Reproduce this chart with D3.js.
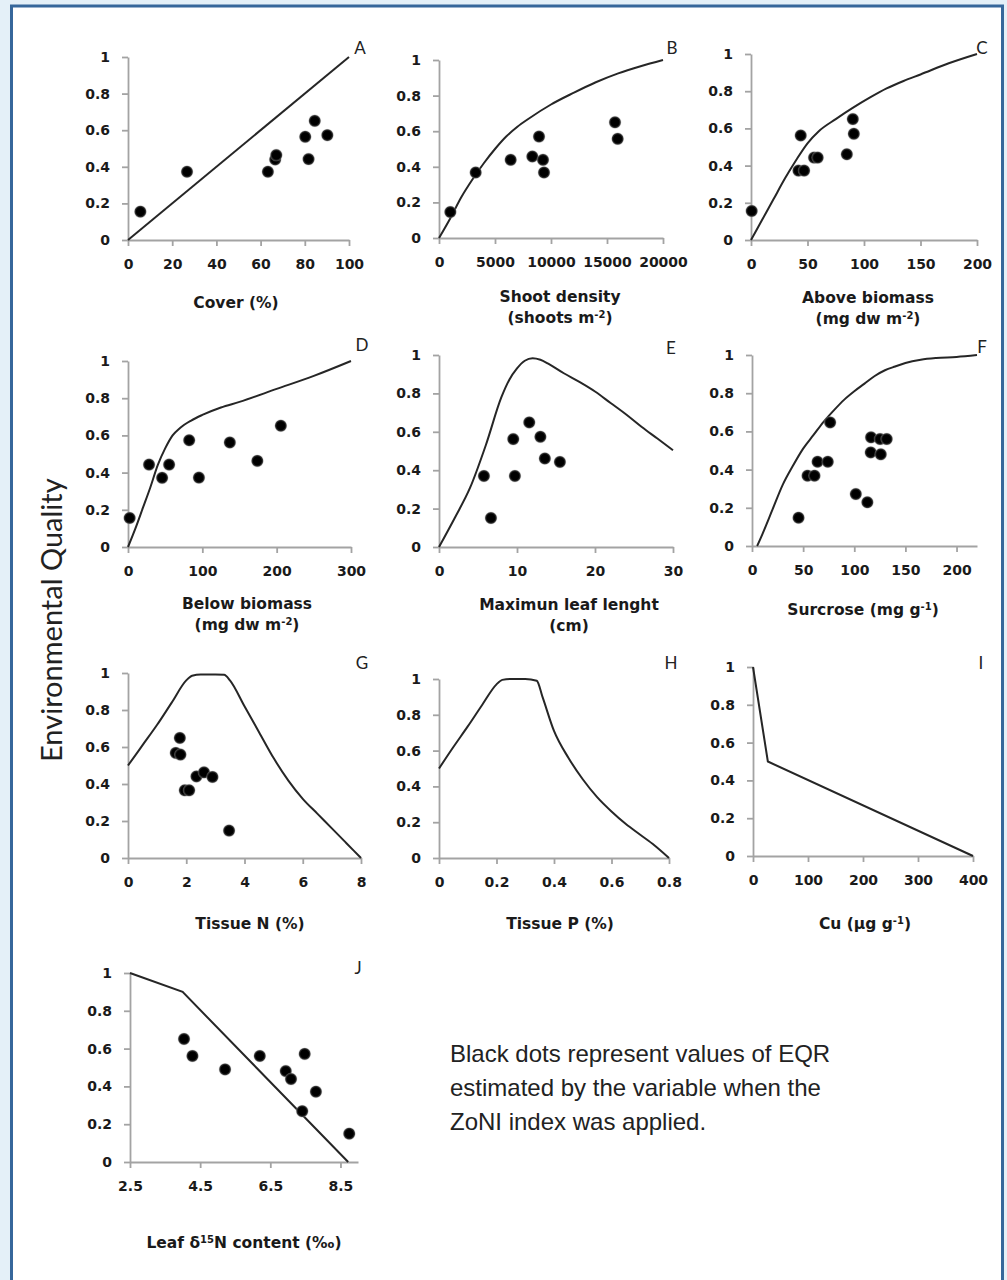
<!DOCTYPE html>
<html>
<head>
<meta charset="utf-8">
<script src="https://cdn.jsdelivr.net/npm/d3@7"></script>
<style>
  body { margin: 0; background: #e4f0f8; }
</style>
</head>
<body>
<div id="chart"></div>
<script>
// values: [x, EQR]
const yTicks = [0, 0.2, 0.4, 0.6, 0.8, 1];

const coverTicks = [0, 20, 40, 60, 80, 100];
const coverCurve = [[0, 0], [100, 1]];
const coverPts = [[5.6, 0.155], [26.7, 0.373], [63.3, 0.373], [66.6, 0.44], [67.1, 0.464],
  [80.2, 0.564], [81.7, 0.442], [84.5, 0.651], [90.2, 0.573]];

const shootTicks = [0, 5000, 10000, 15000, 20000];
const shootCurve = [[0, 0], [1000, 0.11], [2000, 0.23], [3000, 0.33], [4000, 0.42], [5000, 0.5],
  [6000, 0.57], [7000, 0.625], [8000, 0.67], [10000, 0.75], [12000, 0.815], [14000, 0.875],
  [16000, 0.925], [18000, 0.965], [20000, 1]];
const shootPts = [[1012, 0.146], [3274, 0.368], [6399, 0.439], [8333, 0.458], [8929, 0.57],
  [9286, 0.439], [9375, 0.368], [15714, 0.65], [15952, 0.557]];

const aboveTicks = [0, 50, 100, 150, 200];
const aboveCurve = [[0, 0], [10, 0.11], [20, 0.22], [30, 0.33], [40, 0.43], [50, 0.52], [60, 0.585],
  [75, 0.65], [90, 0.71], [105, 0.765], [120, 0.815], [135, 0.855], [150, 0.89], [175, 0.95], [200, 1]];
const abovePts = [[0.6, 0.156], [44, 0.562], [42, 0.373], [47, 0.373], [55.8, 0.443], [59, 0.443],
  [84.8, 0.461], [90.1, 0.65], [91, 0.571]];

const belowTicks = [0, 100, 200, 300];
const belowCurve = [[0, 0], [10, 0.1], [20, 0.21], [30, 0.32], [40, 0.44], [50, 0.53], [60, 0.6],
  [70, 0.64], [85, 0.68], [100, 0.71], [125, 0.75], [150, 0.78], [200, 0.85], [250, 0.92], [300, 1]];
const belowPts = [[2.2, 0.156], [28.3, 0.443], [45.9, 0.372], [55.3, 0.443], [82.3, 0.574],
  [95.4, 0.373], [137, 0.562], [174, 0.463], [205.6, 0.652]];

const leafTicks = [0, 10, 20, 30];
const leafCurve = [[0, 0], [2, 0.15], [4, 0.31], [6, 0.53], [8, 0.78], [9, 0.87], [10, 0.93], [11, 0.97],
  [12, 0.983], [13, 0.975], [14, 0.955], [16, 0.905], [18, 0.86], [20, 0.81], [22, 0.75], [24, 0.69],
  [26, 0.625], [28, 0.565], [30, 0.504]];
const leafPts = [[5.76, 0.37], [6.66, 0.151], [9.52, 0.562], [9.73, 0.37], [11.57, 0.649],
  [13.0, 0.574], [13.57, 0.461], [15.5, 0.443]];

const sucroseTicks = [0, 50, 100, 150, 200];
const sucroseCurve = [[5, 0], [10, 0.06], [20, 0.19], [30, 0.32], [40, 0.42], [50, 0.51], [60, 0.58],
  [70, 0.65], [80, 0.71], [90, 0.765], [100, 0.81], [110, 0.85], [120, 0.89], [130, 0.92], [140, 0.94],
  [150, 0.958], [165, 0.975], [180, 0.984], [200, 0.99], [220, 1]];
const sucrosePts = [[45.5, 0.148], [54.3, 0.368], [61.1, 0.368], [64.1, 0.441], [74.1, 0.441],
  [76.4, 0.647], [101.5, 0.272], [112.8, 0.229], [116.4, 0.569], [116.1, 0.49], [125.2, 0.56],
  [125.9, 0.48], [131.7, 0.56]];

const tissueNTicks = [0, 2, 4, 6, 8];
const tissueNCurve = [[0, 0.5], [0.5, 0.61], [1, 0.72], [1.5, 0.84], [2, 0.96], [2.2, 0.985], [2.5, 0.992],
  [3, 0.992], [3.3, 0.99], [3.5, 0.96], [4, 0.82], [4.5, 0.68], [5, 0.54], [5.5, 0.42], [6, 0.32],
  [6.5, 0.24], [7, 0.16], [7.5, 0.08], [8, 0]];
const tissueNPts = [[1.78, 0.649], [1.64, 0.568], [1.8, 0.559], [1.95, 0.366], [2.1, 0.366],
  [2.35, 0.441], [2.61, 0.463], [2.9, 0.438], [3.47, 0.148]];

const tissuePTicks = [0, 0.2, 0.4, 0.6, 0.8];
const tissuePCurve = [[0, 0.5], [0.05, 0.62], [0.1, 0.735], [0.15, 0.855], [0.2, 0.97], [0.22, 0.995],
  [0.25, 1], [0.3, 1], [0.34, 0.99], [0.36, 0.9], [0.4, 0.71], [0.45, 0.56], [0.5, 0.44], [0.55, 0.34],
  [0.6, 0.26], [0.65, 0.19], [0.7, 0.13], [0.75, 0.07], [0.8, 0]];

const cuTicks = [0, 100, 200, 300, 400];
const cuCurve = [[0, 1], [27, 0.5], [400, 0]];

const deltaTicks = [2.5, 4.5, 6.5, 8.5];
const deltaCurve = [[2.5, 1], [4.0, 0.9], [8.72, 0]];
const deltaPts = [[4.04, 0.651], [4.28, 0.561], [5.21, 0.49], [6.2, 0.561], [6.94, 0.481],
  [7.09, 0.439], [7.48, 0.572], [7.41, 0.269], [7.8, 0.372], [8.75, 0.15]];

const panels = [
  { id: "A", ticks: coverTicks, dom: [0, 100], curve: coverCurve, pts: coverPts, smooth: false,
    title: [[["Cover (%)"]]] },
  { id: "B", ticks: shootTicks, dom: [0, 20000], curve: shootCurve, pts: shootPts, smooth: true,
    title: [[["Shoot density"]], [["(shoots m"], ["-2", 1], [")"]]] },
  { id: "C", ticks: aboveTicks, dom: [0, 200], curve: aboveCurve, pts: abovePts, smooth: true,
    title: [[["Above biomass"]], [["(mg dw m"], ["-2", 1], [")"]]] },
  { id: "D", ticks: belowTicks, dom: [0, 300], curve: belowCurve, pts: belowPts, smooth: true,
    title: [[["Below biomass"]], [["(mg dw m"], ["-2", 1], [")"]]] },
  { id: "E", ticks: leafTicks, dom: [0, 30], curve: leafCurve, pts: leafPts, smooth: true,
    title: [[["Maximun leaf lenght"]], [["(cm)"]]] },
  { id: "F", ticks: sucroseTicks, dom: [0, 220], curve: sucroseCurve, pts: sucrosePts, smooth: true,
    title: [[["Surcrose (mg g"], ["-1", 1], [")"]]] },
  { id: "G", ticks: tissueNTicks, dom: [0, 8], curve: tissueNCurve, pts: tissueNPts, smooth: true,
    title: [[["Tissue N (%)"]]] },
  { id: "H", ticks: tissuePTicks, dom: [0, 0.8], curve: tissuePCurve, pts: [], smooth: true,
    title: [[["Tissue P (%)"]]] },
  { id: "I", ticks: cuTicks, dom: [0, 400], curve: cuCurve, pts: [], smooth: false,
    title: [[["Cu (µg g"], ["-1", 1], [")"]]] },
  { id: "J", ticks: deltaTicks, dom: [2.5, 9], curve: deltaCurve, pts: deltaPts, smooth: false,
    title: [[["Leaf δ"], ["15", 1], ["N content (‰)"]]] }
];

// pixel layout of each panel: plot box, title centre, letter position
const layout = {
  A: { x0: 128, x1: 349, top: 57, bot: 240, tx: 236, ty: 302, lx: 360, ly: 48 },
  B: { x0: 439, x1: 663, top: 60, bot: 238, tx: 560, ty: 296, lx: 672, ly: 48 },
  C: { x0: 751, x1: 977, top: 54, bot: 240, tx: 868, ty: 297, lx: 982, ly: 48 },
  D: { x0: 128, x1: 351, top: 361, bot: 547, tx: 247, ty: 603, lx: 362, ly: 345 },
  E: { x0: 439, x1: 673, top: 355, bot: 547, tx: 569, ty: 604, lx: 671, ly: 348 },
  F: { x0: 752, x1: 977, top: 355, bot: 546, tx: 863, ty: 609, lx: 982, ly: 347 },
  G: { x0: 128, x1: 361, top: 673, bot: 858, tx: 250, ty: 923, lx: 362, ly: 663 },
  H: { x0: 439, x1: 669, top: 679, bot: 858, tx: 560, ty: 923, lx: 671, ly: 663 },
  I: { x0: 753, x1: 973, top: 667, bot: 856, tx: 865, ty: 923, lx: 981, ly: 663 },
  J: { x0: 130, x1: 358, top: 973, bot: 1162, tx: 244, ty: 1242, lx: 358, ly: 968 }
};

const noteLines = ["Black dots represent values of EQR", "estimated by the variable when the",
  "ZoNI index was applied."];

const W = 1007, H = 1280;
const svg = d3.select("#chart").append("svg")
    .attr("width", W)
    .attr("height", H)
    .style("display", "block");

svg.append("rect")
    .attr("x", 11.5).attr("y", 6)
    .attr("width", 991).attr("height", H + 20)
    .attr("fill", "#fff")
    .attr("stroke", "#36679b")
    .attr("stroke-width", 3);

const grad = svg.append("defs").append("radialGradient").attr("id", "dot");
grad.append("stop").attr("offset", "0%").attr("stop-color", "#000");
grad.append("stop").attr("offset", "62%").attr("stop-color", "#000");
grad.append("stop").attr("offset", "82%").attr("stop-color", "#333");
grad.append("stop").attr("offset", "100%").attr("stop-color", "#999").attr("stop-opacity", 0.25);

const tickFont = "'DejaVu Sans', sans-serif";

panels.forEach(p => {
  const L = layout[p.id];
  const x = d3.scaleLinear().domain(p.dom).range([L.x0, L.x1]);
  const y = d3.scaleLinear().domain([0, 1]).range([L.bot, L.top]);
  const g = svg.append("g");

  const ax = g.append("g")
      .attr("transform", `translate(0,${L.bot})`)
      .call(d3.axisBottom(x).tickValues(p.ticks).tickFormat(d => String(d))
        .tickSize(6).tickSizeOuter(0).tickPadding(13));
  const ay = g.append("g")
      .attr("transform", `translate(${L.x0},0)`)
      .call(d3.axisLeft(y).tickValues(yTicks).tickFormat(d => String(+d.toFixed(1)))
        .tickSize(6).tickSizeOuter(0).tickPadding(12));

  [ax, ay].forEach(a => {
    a.selectAll(".domain, .tick line").attr("stroke", "#a3a3a3").attr("stroke-width", 1.8);
    a.selectAll("text")
        .attr("fill", "#1a1a1a")
        .attr("font-family", tickFont)
        .attr("font-weight", "bold")
        .attr("font-size", 14);
  });

  const line = d3.line()
      .x(d => x(d[0]))
      .y(d => y(d[1]))
      .curve(p.smooth ? d3.curveMonotoneX : d3.curveLinear);

  g.append("path")
      .datum(p.curve)
      .attr("d", line)
      .attr("fill", "none")
      .attr("stroke", "#262626")
      .attr("stroke-width", 2);

  g.selectAll("circle")
    .data(p.pts)
    .join("circle")
      .attr("cx", d => x(d[0]))
      .attr("cy", d => y(d[1]))
      .attr("r", 6.5)
      .attr("fill", "url(#dot)");

  // axis title, possibly two lines with superscripts
  const t = g.append("text")
      .attr("text-anchor", "middle")
      .attr("font-family", tickFont)
      .attr("font-weight", "bold")
      .attr("font-size", 15.5)
      .attr("fill", "#1a1a1a");
  p.title.forEach((ln, i) => {
    const row = t.append("tspan").attr("x", L.tx).attr("y", L.ty + 5.5 + i * 21);
    ln.forEach(seg => {
      const s = row.append("tspan").text(seg[0]);
      if (seg[1]) s.attr("baseline-shift", "super").attr("font-size", 10);
    });
  });

  g.append("text")
      .attr("x", L.lx).attr("y", L.ly)
      .attr("dy", "0.36em")
      .attr("text-anchor", "middle")
      .attr("font-family", "Lato, sans-serif")
      .attr("font-size", 17)
      .attr("fill", "#222")
      .text(p.id);
});

svg.append("text")
    .attr("transform", "translate(62,762) rotate(-90)")
    .attr("font-family", "Lato, sans-serif")
    .attr("font-size", 29)
    .attr("fill", "#222")
    .text("Environmental Quality");

svg.append("g")
  .selectAll("text")
  .data(noteLines)
  .join("text")
    .attr("x", 450)
    .attr("y", (d, i) => 1062 + i * 34)
    .attr("font-family", "'Liberation Sans', Arial, sans-serif")
    .attr("font-size", 24)
    .attr("fill", "#222")
    .text(d => d);
</script>
</body>
</html>
